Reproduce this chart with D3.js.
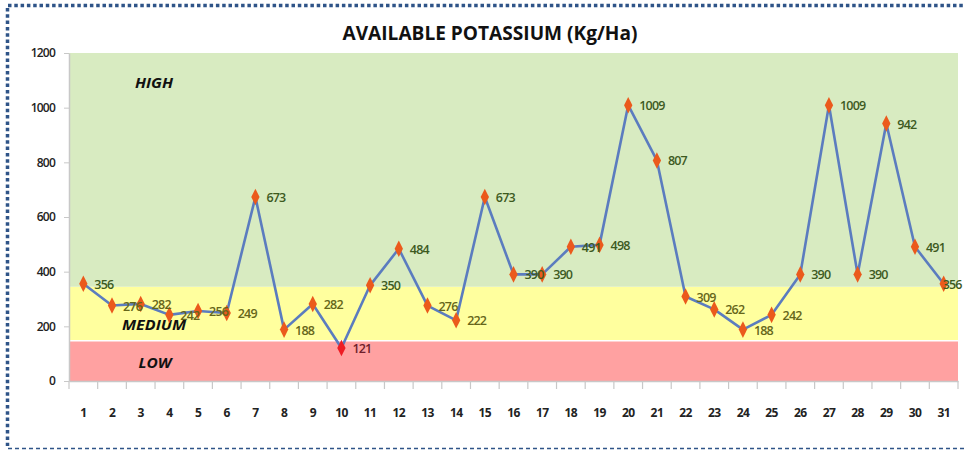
<!DOCTYPE html>
<html><head><meta charset="utf-8">
<script src="https://cdn.jsdelivr.net/npm/d3@7"></script>
<style>body{margin:0;background:#fff;}svg{display:block;}</style>
</head><body>
<svg id="c" width="965" height="450"></svg>
<script>
const categories = d3.range(1, 32).map(String);
const values = [356,276,282,242,256,249,673,188,282,121,350,484,276,222,673,390,390,491,498,1009,807,309,262,188,242,390,1009,390,942,491,356];
const yTicks = [0,200,400,600,800,1000,1200];
const zones = [
  {name:"LOW", from:0, to:150, fill:"#ffa1a1", text:"#6e1f2c"},
  {name:"MEDIUM", from:150, to:345, fill:"#ffff9e", text:"#66661a"},
  {name:"HIGH", from:345, to:1200, fill:"#d8ebc1", text:"#3d5a1f"}
];
const title = "AVAILABLE POTASSIUM (Kg/Ha)";

const svg = d3.select("#c");
const L = 69, R = 958, T = 53, B = 381;
const x = d3.scaleBand().domain(categories).range([L, R]);
const y = d3.scaleLinear().domain([0, 1200]).range([B, T]);

// frame
svg.append("line").attr("x1",8).attr("x2",965).attr("y1",5.5).attr("y2",5.5)
  .attr("stroke","#2f5488").attr("stroke-width",3.5).attr("stroke-dasharray","3.5,2.8");
svg.append("line").attr("x1",7.5).attr("x2",7.5).attr("y1",8).attr("y2",446)
  .attr("stroke","#2f5488").attr("stroke-width",3.5).attr("stroke-dasharray","3.5,2.8");
svg.append("line").attr("x1",8).attr("x2",965).attr("y1",448.5).attr("y2",448.5)
  .attr("stroke","#2f5488").attr("stroke-width",1.5).attr("stroke-dasharray","4,3");

// title
svg.append("text").attr("x",490).attr("y",40).attr("text-anchor","middle")
  .attr("font-family","Open Sans, sans-serif").attr("font-weight","bold").attr("font-size",19)
  .attr("textLength",295).attr("lengthAdjust","spacingAndGlyphs").attr("fill","#111").text(title);

// zones
svg.selectAll("rect.zone").data(zones).enter().append("rect").attr("class","zone")
  .attr("x", L).attr("width", R - L)
  .attr("y", d => y(d.to) + (d.name==="LOW" ? 1.5 : 0))
  .attr("height", d => y(d.from) - y(d.to) - (d.name==="LOW" ? 1.5 : 0))
  .attr("fill", d => d.fill);

// zone labels
const zl = {HIGH:[154,88], MEDIUM:[154,330], LOW:[155,368]};
svg.selectAll("text.zl").data(zones).enter().append("text").attr("class","zl")
  .attr("x", d => zl[d.name][0]).attr("y", d => zl[d.name][1]).attr("text-anchor","middle")
  .attr("font-family","Open Sans, sans-serif").attr("font-style","italic").attr("font-weight","bold")
  .attr("font-size",14).attr("fill","#111")
  .attr("textLength", d => d.name==="MEDIUM" ? 64 : (d.name==="HIGH" ? 38 : 33))
  .attr("lengthAdjust","spacingAndGlyphs").text(d => d.name);

// y axis
const ya = svg.append("g").attr("transform",`translate(${L},0)`)
  .call(d3.axisLeft(y).tickValues(yTicks).tickFormat(d3.format("d")).tickSize(5).tickSizeOuter(0).tickPadding(9));
ya.select(".domain").attr("stroke","#c8c8c8").attr("stroke-width",1.5);
ya.selectAll(".tick line").attr("stroke","#c8c8c8");
ya.selectAll(".tick text").attr("font-family","Open Sans, sans-serif").attr("font-weight",600)
  .attr("font-size",12).attr("fill","#222").attr("letter-spacing","-0.8");

// x axis
const xa = svg.append("g").attr("transform",`translate(0,${B})`)
  .call(d3.axisBottom(x).tickSize(0).tickPadding(27));
xa.select(".domain").attr("stroke","#c8c8c8").attr("stroke-width",1.5);
xa.selectAll(".tick text").attr("font-family","Open Sans, sans-serif").attr("font-weight","bold")
  .attr("font-size",12).attr("fill","#222").attr("letter-spacing","-0.6");
const bounds = categories.map(c => x(c)).concat([R]);
xa.selectAll("line.bt").data(bounds).enter().append("line").attr("class","bt")
  .attr("x1", d => d).attr("x2", d => d).attr("y1",0).attr("y2",8)
  .attr("stroke","#c8c8c8").attr("stroke-width",1.2);

// line
const cx = (d,i) => x(categories[i]) + x.bandwidth()/2;
svg.append("path").datum(values)
  .attr("d", d3.line().x(cx).y(d => y(d)))
  .attr("fill","none").attr("stroke","#5b7cbf").attr("stroke-width",2.6).attr("stroke-linejoin","round");

// markers
svg.selectAll("path.m").data(values).enter().append("path").attr("class","m")
  .attr("d", d3.symbol().type(d3.symbolDiamond).size(60))
  .attr("transform",(d,i) => `translate(${cx(d,i)},${y(d)}) scale(1,1.15)`)
  .attr("fill", d => d < 150 ? "#ee1c24" : "#eb5a1c");

// labels
const zoneOf = v => zones.find(z => v >= z.from && v < z.to) || zones[2];
svg.selectAll("text.lab").data(values).enter().append("text").attr("class","lab")
  .attr("x",(d,i) => cx(d,i) + (i===30 ? -1 : 11)).attr("y", d => y(d) + 5)
  .attr("font-family","Open Sans, sans-serif").attr("font-weight",600).attr("font-size",12.5)
  .attr("letter-spacing","-0.8")
  .attr("fill", d => zoneOf(d).text).text(d => d);
</script>
</body></html>
